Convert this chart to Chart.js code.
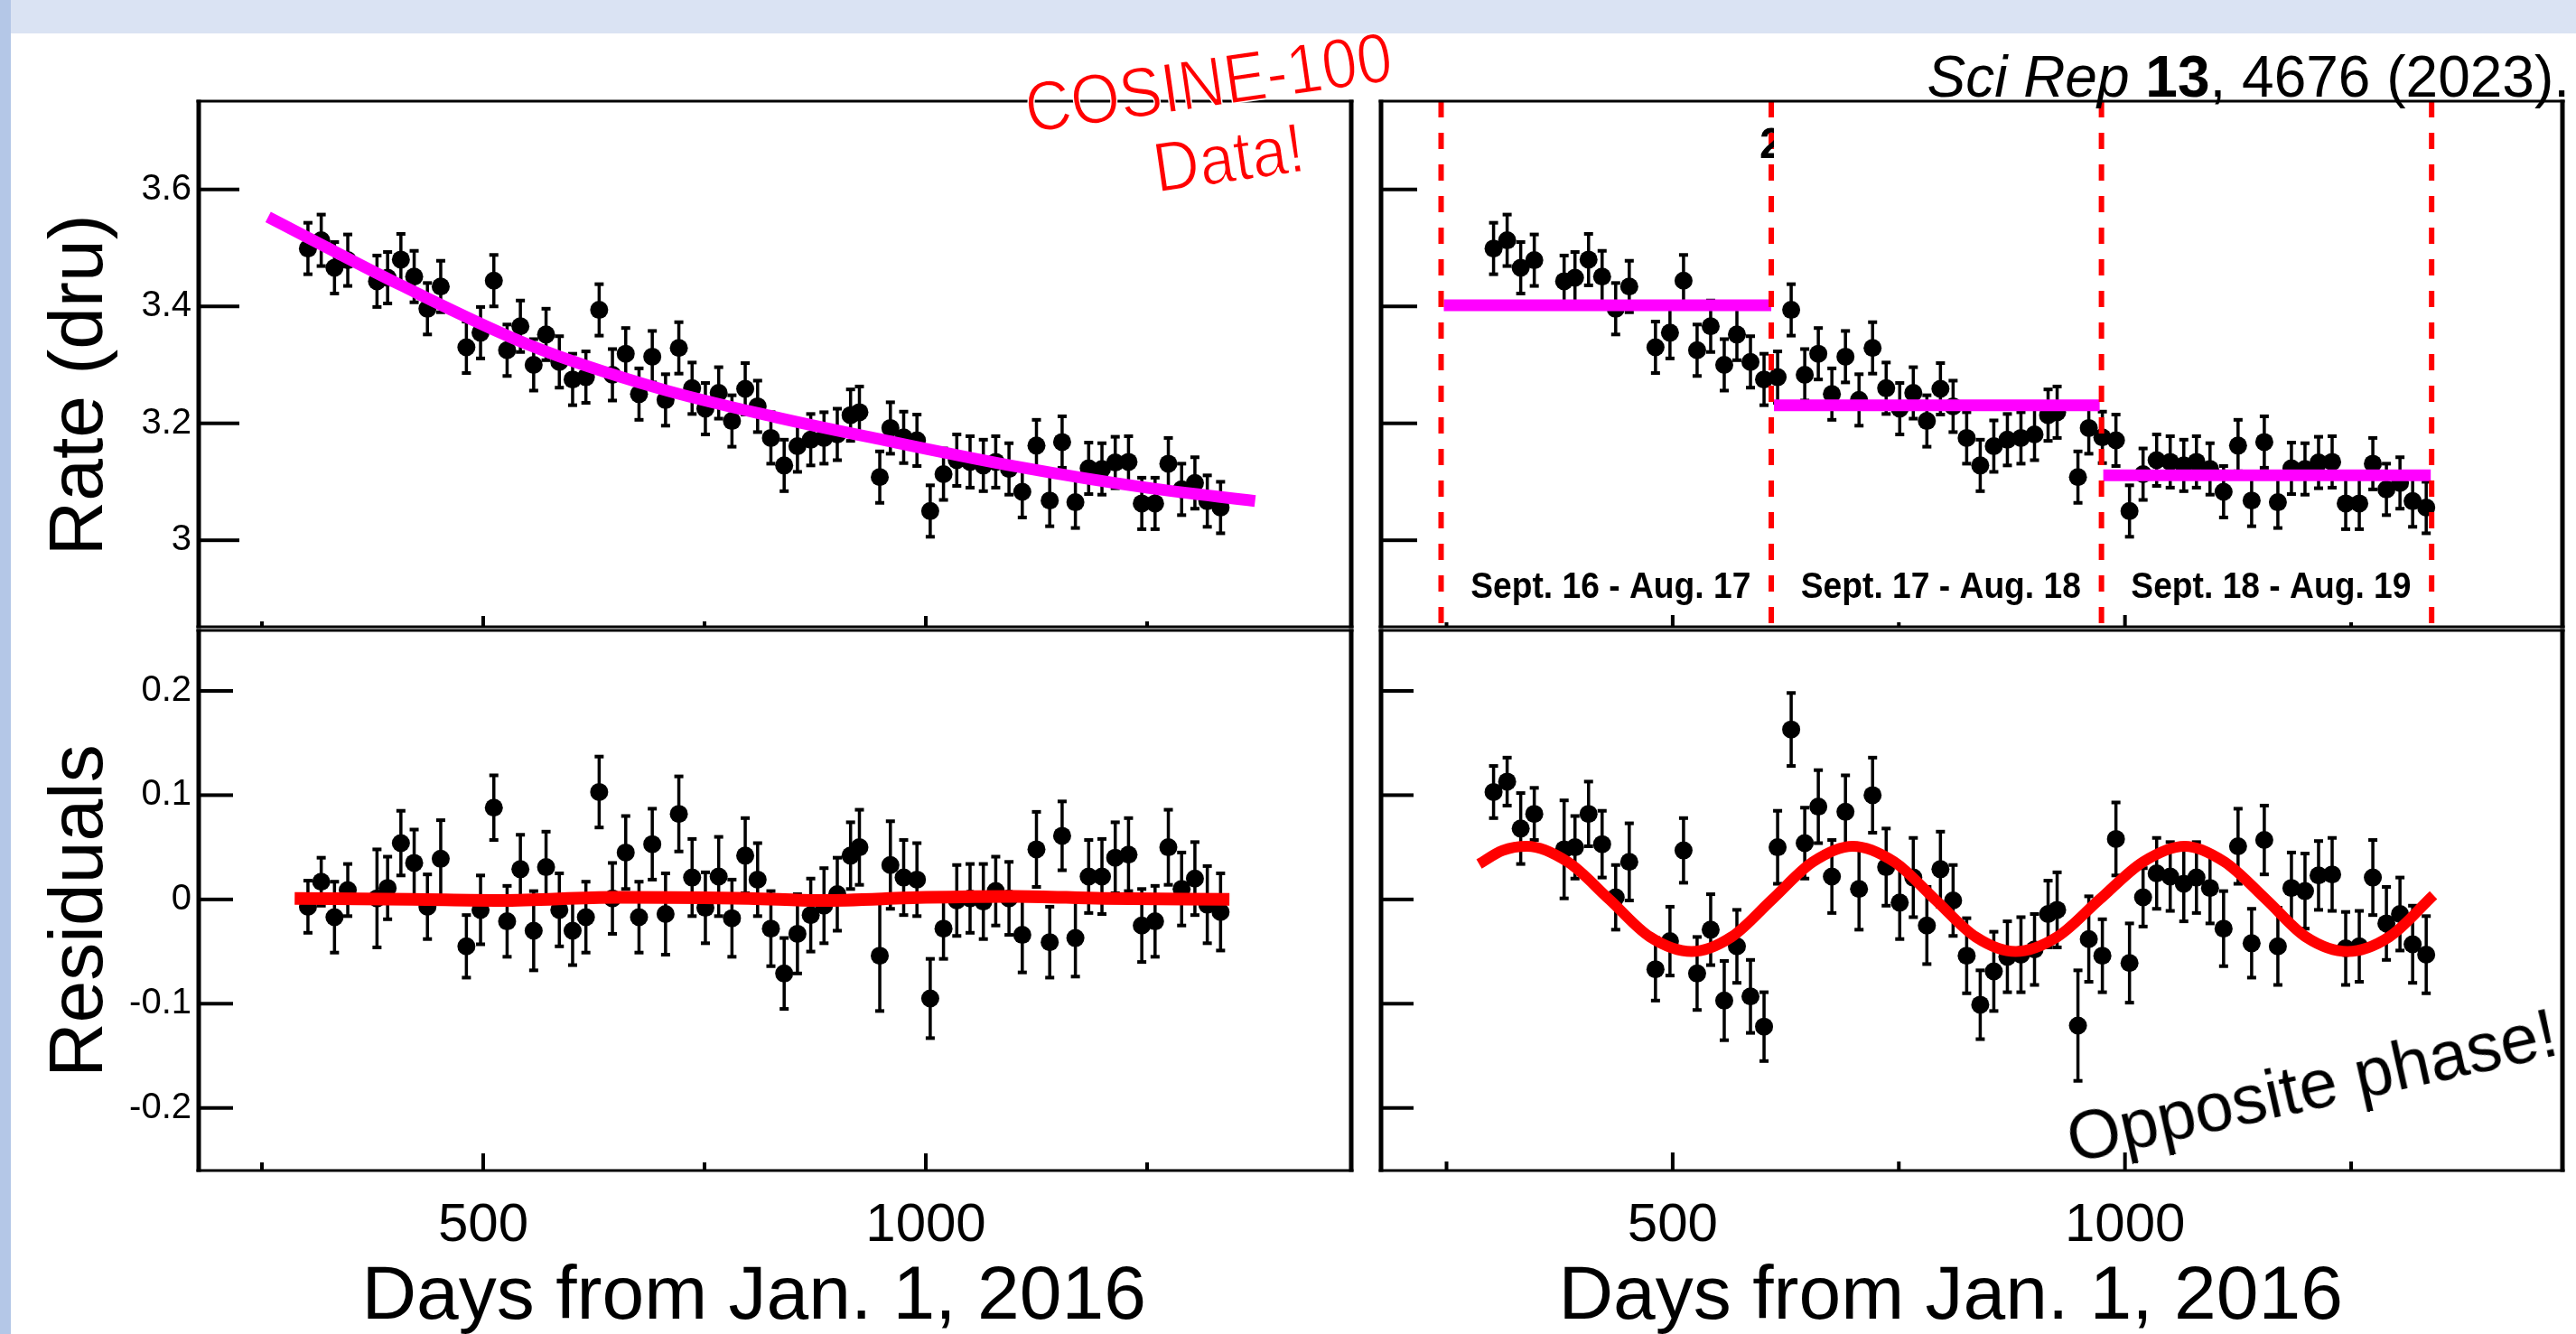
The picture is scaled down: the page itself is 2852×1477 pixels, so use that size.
<!DOCTYPE html>
<html>
<head>
<meta charset="utf-8">
<script src="https://cdn.jsdelivr.net/npm/chart.js@4.4.1/dist/chart.umd.min.js"></script>
<style>
  html, body { margin: 0; padding: 0; width: 2852px; height: 1477px; overflow: hidden; background: #fff;
    font-family: "Liberation Sans", Arial, Helvetica, sans-serif; }
  #band { position: absolute; left: 0; top: 0; width: 2852px; height: 37px; background: #dae3f3; }
  #strip { position: absolute; left: 0; top: 0; width: 12px; height: 1477px; background: #b4c7e7; }
  canvas { position: absolute; }
  .note { position: absolute; white-space: nowrap; line-height: 1; color: #000; }
  .red { color: #ff0000; -webkit-text-stroke: 1.5px #fff; }
</style>
</head>
<body>
<div id="band"></div>
<div id="strip"></div>
<canvas id="tl" width="1512" height="696" style="left:0px;top:0px"></canvas>
<canvas id="bl" width="1512" height="824" style="left:0px;top:696px"></canvas>
<canvas id="tr" width="1340" height="696" style="left:1512px;top:0px"></canvas>
<canvas id="br" width="1340" height="824" style="left:1512px;top:696px"></canvas>
<div class="note red" style="left:1139px;top:81px;font-size:78px;transform-origin:0 66px;transform:rotate(-8.2deg) scaleX(0.9)">COSINE-100</div>
<div class="note red" style="left:1281px;top:147px;font-size:78px;transform-origin:0 66px;transform:rotate(-8.2deg) scaleX(0.9)">Data!</div>
<div class="note" style="right:7px;top:53px;font-size:64px"><i>Sci Rep</i> <b>13</b>, 4676 (2023).</div>
<div class="note" style="left:2295px;top:1223px;font-size:76px;transform-origin:0 64px;transform:rotate(-12.5deg)">Opposite phase!</div>
<script>
// days since Jan 1 2016 (bin centres)
const days = [302, 317, 332, 347, 380, 392, 407, 422, 437, 452, 481, 497, 512, 527, 542, 557, 571, 586, 601, 616,
  631, 646, 661, 676, 691, 706, 721, 736, 751, 766, 781, 796, 810, 825, 840, 855, 870, 885, 900, 915, 925,
  948, 960, 975, 990, 1005, 1020, 1035, 1050, 1065, 1079, 1094, 1109, 1125, 1140, 1154, 1169, 1184, 1199, 1214,
  1229, 1244, 1259, 1274, 1289, 1304, 1318, 1333];

// rate (dru)
const rate = [3.499, 3.513, 3.466, 3.479, 3.443, 3.449, 3.480, 3.451, 3.396, 3.434,
  3.330, 3.355, 3.444, 3.325, 3.366, 3.300, 3.352, 3.305, 3.275, 3.279,
  3.394, 3.283, 3.319, 3.250, 3.314, 3.240, 3.329, 3.260, 3.225, 3.252,
  3.204, 3.259, 3.229, 3.175, 3.128, 3.161, 3.172, 3.175, 3.181, 3.214, 3.219,
  3.108, 3.192, 3.176, 3.171, 3.050, 3.113, 3.137, 3.134, 3.128, 3.134,
  3.122, 3.083, 3.162, 3.068, 3.168, 3.065, 3.123, 3.122, 3.133, 3.134,
  3.063, 3.063, 3.131, 3.087, 3.098, 3.067, 3.056];
const rateErr = 0.044;

// residuals after the exponential fit (left)
const residExp = [-0.007, 0.017, -0.017, 0.009, 0.001, 0.011, 0.054, 0.035, -0.007, 0.039,
  -0.045, -0.010, 0.088, -0.021, 0.029, -0.030, 0.031, -0.010, -0.030, -0.017,
  0.103, 0.001, 0.045, -0.017, 0.053, -0.014, 0.082, 0.021, -0.008, 0.022,
  -0.018, 0.042, 0.019, -0.028, -0.071, -0.033, -0.015, -0.006, 0.005, 0.042, 0.050,
  -0.054, 0.033, 0.021, 0.019, -0.095, -0.028, -0.001, 0.001, -0.002, 0.008,
  0.001, -0.034, 0.048, -0.041, 0.061, -0.037, 0.022, 0.022, 0.040, 0.043,
  -0.025, -0.021, 0.050, 0.010, 0.020, -0.005, -0.012];
const residExpErr = [0.025, 0.023, 0.034, 0.025, 0.047, 0.030, 0.031, 0.032, 0.031, 0.037,
  0.030, 0.033, 0.031, 0.034, 0.033, 0.038, 0.034, 0.035, 0.033, 0.034,
  0.034, 0.034, 0.035, 0.034, 0.034, 0.039, 0.036, 0.037, 0.034, 0.038,
  0.037, 0.036, 0.035, 0.036, 0.034, 0.038, 0.035, 0.036, 0.035, 0.032, 0.036,
  0.053, 0.042, 0.036, 0.035, 0.038, 0.029, 0.034, 0.033, 0.036, 0.033,
  0.035, 0.036, 0.036, 0.034, 0.033, 0.037, 0.035, 0.036, 0.034, 0.035,
  0.035, 0.034, 0.036, 0.035, 0.035, 0.037, 0.037];

// residuals after the yearly step fit (right)
const residStep = [0.103, 0.113, 0.068, 0.082, 0.048, 0.050, 0.082, 0.053, 0.002, 0.036,
  -0.067, -0.040, 0.047, -0.071, -0.029, -0.097, -0.045, -0.093, -0.122, 0.050,
  0.163, 0.054, 0.089, 0.022, 0.084, 0.010, 0.100, 0.031, -0.003, 0.021,
  -0.025, 0.029, -0.001, -0.054, -0.101, -0.069, -0.055, -0.053, -0.048, -0.014, -0.010,
  -0.121, -0.038, -0.054, 0.058, -0.061, 0.002, 0.025, 0.022, 0.015, 0.021,
  0.011, -0.028, 0.051, -0.042, 0.057, -0.045, 0.011, 0.008, 0.023, 0.024,
  -0.047, -0.045, 0.021, -0.023, -0.014, -0.043, -0.053];
const residStepErr = [0.025, 0.023, 0.034, 0.025, 0.047, 0.030, 0.031, 0.032, 0.031, 0.037,
  0.030, 0.033, 0.031, 0.035, 0.034, 0.038, 0.035, 0.035, 0.033, 0.035,
  0.035, 0.034, 0.035, 0.035, 0.035, 0.039, 0.036, 0.037, 0.035, 0.038,
  0.037, 0.036, 0.034, 0.036, 0.033, 0.038, 0.034, 0.036, 0.034, 0.032, 0.036,
  0.053, 0.041, 0.035, 0.035, 0.038, 0.028, 0.034, 0.033, 0.036, 0.034,
  0.034, 0.036, 0.036, 0.033, 0.033, 0.037, 0.034, 0.036, 0.033, 0.035,
  0.035, 0.034, 0.036, 0.035, 0.035, 0.037, 0.037];

// fit curves
const expFitDays = [257, 406, 552, 698, 829, 957, 1103, 1249, 1372];
const expFitRate = [3.553, 3.437, 3.334, 3.260, 3.211, 3.170, 3.126, 3.090, 3.067];
const expResidDays = [287, 420, 520, 650, 800, 880, 1000, 1100, 1200, 1343];
const expResidVals = [0.001, 0.000, -0.001, 0.002, 0.001, -0.001, 0.002, 0.003, 0.001, 0.000];
const yearBounds = [244, 609, 974, 1339];
const stepStart = [247, 612, 976];
const stepEnd = [609, 972, 1338];
const stepRate = [3.402, 3.231, 3.111];
const periodLabels = ['Sept. 16 - Aug. 17', 'Sept. 17 - Aug. 18', 'Sept. 18 - Aug. 19'];
const sineDays = [286, 312, 339, 384, 430, 475, 521, 565, 610, 655, 699, 745, 790, 835, 879, 925,
  972, 1020, 1066, 1110, 1156, 1200, 1246, 1292, 1341];
const sineVals = [0.034, 0.047, 0.051, 0.036, 0.000, -0.036, -0.050, -0.036, 0.000, 0.036, 0.051, 0.036,
  0.000, -0.036, -0.050, -0.036, 0.000, 0.036, 0.051, 0.036, 0.000, -0.036, -0.050, -0.036, 0.004];

// axes
const yTicksRate = [3, 3.2, 3.4, 3.6];
const yTicksResid = [-0.2, -0.1, 0, 0.1, 0.2];
const xTicks = [250, 500, 750, 1000, 1250];
const xLabelTicks = [500, 1000];
const rateAxis = { min: 2.852, max: 3.751 };
const residAxis = { min: -0.26, max: 0.258 };
const leftDays = { min: 178.6, max: 1480.6 };
const rightDays = { min: 177.6, max: 1483.6 };

const FONT = '"Liberation Sans", Arial, Helvetica, sans-serif';
const points = (xs, ys) => xs.map((x, i) => ({ x: x, y: ys[i] }));

// error bars under the markers, inward ticks and the frame on top
const panelDecor = {
  id: 'panelDecor',
  beforeDatasetsDraw(chart) {
    const { ctx, scales: { x, y } } = chart;
    ctx.save();
    ctx.fillStyle = '#000';
    chart.data.datasets.forEach(ds => {
      if (ds.errors === undefined) return;
      ds.data.forEach((p, i) => {
        const e = Array.isArray(ds.errors) ? ds.errors[i] : ds.errors;
        const px = x.getPixelForValue(p.x);
        const top = y.getPixelForValue(p.y + e);
        const bot = y.getPixelForValue(p.y - e);
        ctx.fillRect(px - 1.75, top, 3.5, bot - top);
        ctx.fillRect(px - 5, top - 2, 10, 4);
        ctx.fillRect(px - 5, bot - 2, 10, 4);
      });
    });
    ctx.restore();
  },
  afterDraw(chart, args, opts) {
    const { ctx, chartArea: a, scales: { x, y } } = chart;
    ctx.save();
    ctx.fillStyle = '#000';
    opts.yTicks.forEach(v => {
      ctx.fillRect(a.left, y.getPixelForValue(v) - 2, opts.yLen, 4);
    });
    xTicks.forEach(v => {
      const len = xLabelTicks.includes(v) ? opts.xMajor : opts.xMinor;
      ctx.fillRect(x.getPixelForValue(v) - 2, a.bottom - len, 4, len);
    });
    ctx.fillRect(a.left - 2.5, a.top - 1.5, a.width + 5, 3);
    ctx.fillRect(a.left - 2.5, a.bottom - 1.5, a.width + 5, 3);
    ctx.fillRect(a.left - 2.5, a.top - 1.5, 5, a.height + 3);
    ctx.fillRect(a.right - 2.5, a.top - 1.5, 5, a.height + 3);
    ctx.restore();
  }
};

const periodPlugin = {
  id: 'periods',
  afterDatasetsDraw(chart) {
    const { ctx, chartArea: a, scales: { x } } = chart;
    ctx.save();
    ctx.fillStyle = '#000';
    ctx.font = 'bold 40px ' + FONT;
    ctx.textAlign = 'center';
    ctx.textBaseline = 'alphabetic';
    periodLabels.forEach((t, i) => {
      const cx = x.getPixelForValue((yearBounds[i] + yearBounds[i + 1]) / 2 + 5);
      ctx.save();
      ctx.translate(cx, a.bottom - 32);
      ctx.scale(0.93, 1);
      ctx.fillText(t, 0, 0);
      ctx.restore();
    });
    // half-hidden stray label next to the second boundary
    const gx = x.getPixelForValue(yearBounds[1]) - 13;
    ctx.beginPath();
    ctx.rect(gx, a.top + 20, 16, 50);
    ctx.clip();
    ctx.font = 'bold 48px ' + FONT;
    ctx.textAlign = 'left';
    ctx.fillText('2', gx, a.top + 63);
    ctx.restore();
  }
};

function fitLine(xs, ys, color, width) {
  return { type: 'line', data: points(xs, ys), borderColor: color, borderWidth: width, pointRadius: 0,
    cubicInterpolationMode: 'monotone', borderCapStyle: 'butt', fill: false };
}

function dataSet(ys, errs) {
  return { type: 'scatter', data: points(days, ys), errors: errs, pointRadius: 10, pointHoverRadius: 10,
    backgroundColor: '#000', borderWidth: 0 };
}

function panel(id, o) {
  return new Chart(document.getElementById(id), {
    type: 'scatter',
    data: { datasets: o.datasets },
    options: {
      responsive: false,
      maintainAspectRatio: false,
      animation: false,
      devicePixelRatio: 1,
      events: [],
      layout: { padding: o.padding, autoPadding: false },
      plugins: { legend: { display: false }, tooltip: { enabled: false }, panelDecor: o.decor },
      scales: {
        x: {
          type: 'linear', min: o.days.min, max: o.days.max,
          afterBuildTicks: s => { s.ticks = xLabelTicks.map(v => ({ value: v })); },
          ticks: { display: !!o.xTitle, callback: v => String(v), font: { family: FONT, size: 60 }, color: '#000',
            padding: 25, maxRotation: 0, autoSkip: false },
          grid: { display: false, drawTicks: false },
          border: { display: false },
          title: { display: !!o.xTitle, text: o.xTitle || '', font: { family: FONT, size: 84 }, color: '#000',
            padding: { bottom: 33 } },
          afterFit: s => { s.height = o.xHeight; s.paddingLeft = 0; s.paddingRight = 0; }
        },
        y: {
          type: 'linear', min: o.yRange.min, max: o.yRange.max,
          afterBuildTicks: s => { s.ticks = o.decor.yTicks.map(v => ({ value: v })); },
          ticks: { display: !!o.yTitle, callback: v => String(v), font: { family: FONT, size: 40 }, color: '#000',
            padding: 8 },
          grid: { display: false, drawTicks: false },
          border: { display: false },
          title: { display: !!o.yTitle, text: o.yTitle || '', font: { family: FONT, size: 84 }, color: '#000',
            padding: { top: 39 } },
          afterFit: s => { s.width = o.yWidth; s.paddingTop = 0; s.paddingBottom = 0; }
        }
      }
    },
    plugins: [panelDecor].concat(o.extra || [])
  });
}

panel('tl', {
  padding: { top: 112, right: 16, left: 0, bottom: 0 },
  days: leftDays, yRange: rateAxis, yWidth: 220, xHeight: 2,
  yTitle: 'Rate (dru)  ',
  decor: { yTicks: yTicksRate, yLen: 45, xMajor: 12, xMinor: 6 },
  datasets: [fitLine(expFitDays, expFitRate, '#ff00ff', 13), dataSet(rate, rateErr)]
});

panel('bl', {
  padding: { top: 2, right: 16, left: 0, bottom: 0 },
  days: leftDays, yRange: residAxis, yWidth: 220, xHeight: 224,
  yTitle: 'Residuals ', xTitle: 'Days from Jan. 1, 2016  ',
  decor: { yTicks: yTicksResid, yLen: 38, xMajor: 19, xMinor: 9 },
  datasets: [fitLine(expResidDays, expResidVals, '#ff0000', 14), dataSet(residExp, residExpErr)]
});

const boundaryLines = yearBounds.map(b => ({
  type: 'line', data: [{ x: b, y: rateAxis.max }, { x: b, y: rateAxis.min }],
  borderColor: '#ff0000', borderWidth: 6, borderDash: [18, 17], pointRadius: 0, borderCapStyle: 'butt'
}));
const stepLines = stepRate.map((v, i) => ({
  type: 'line', data: [{ x: stepStart[i], y: v }, { x: stepEnd[i], y: v }],
  borderColor: '#ff00ff', borderWidth: 13, pointRadius: 0, borderCapStyle: 'butt'
}));

panel('tr', {
  padding: { top: 112, right: 15, left: 0, bottom: 0 },
  days: rightDays, yRange: rateAxis, yWidth: 17, xHeight: 2,
  decor: { yTicks: yTicksRate, yLen: 40, xMajor: 13, xMinor: 5 },
  datasets: boundaryLines.concat(stepLines, [dataSet(rate, rateErr)]),
  extra: [periodPlugin]
});

panel('br', {
  padding: { top: 2, right: 15, left: 0, bottom: 0 },
  days: rightDays, yRange: residAxis, yWidth: 17, xHeight: 224,
  xTitle: 'Days from Jan. 1, 2016  ',
  decor: { yTicks: yTicksResid, yLen: 36, xMajor: 20, xMinor: 10 },
  datasets: [fitLine(sineDays, sineVals, '#ff0000', 12), dataSet(residStep, residStepErr)]
});
</script>
</body>
</html>
